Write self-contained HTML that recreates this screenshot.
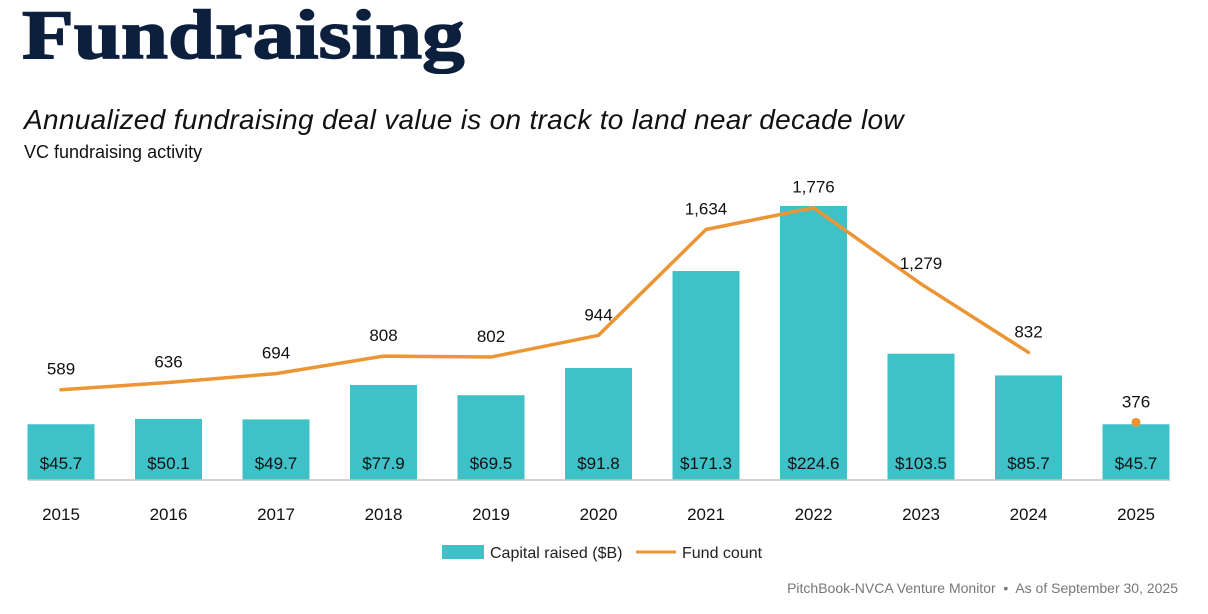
<!DOCTYPE html>
<html><head><meta charset="utf-8"><style>
body{margin:0;width:1208px;height:614px;background:#fff;overflow:hidden;font-family:"Liberation Sans",sans-serif;}
#title{position:absolute;left:22px;top:-4px;font-family:"Liberation Serif",serif;font-weight:bold;font-size:70px;color:#0c1f3d;letter-spacing:0px;transform:scaleX(1.21);transform-origin:left top;-webkit-text-stroke:1.5px #0c1f3d;}
#sub{position:absolute;left:24px;top:104px;font-style:italic;font-size:28px;color:#111;letter-spacing:0.3px;}
#sub2{position:absolute;left:24px;top:142px;font-size:18px;color:#111;}
#foot{position:absolute;right:30px;top:580px;font-size:14px;color:#777;}
svg{position:absolute;left:0;top:0;}
</style></head><body>
<div id="title">Fundraising</div>
<div id="sub">Annualized fundraising deal value is on track to land near decade low</div>
<div id="sub2">VC fundraising activity</div>
<div id="foot">PitchBook-NVCA Venture Monitor &nbsp;•&nbsp; As of September 30, 2025</div>
<svg id="chart" width="1208" height="614"></svg>
<script>
const years=["2015","2016","2017","2018","2019","2020","2021","2022","2023","2024","2025"];
const capital=[45.7,50.1,49.7,77.9,69.5,91.8,171.3,224.6,103.5,85.7,45.7];
const counts=[589,636,694,808,802,944,1634,1776,1279,832,376];
const capLabels=["$45.7","$50.1","$49.7","$77.9","$69.5","$91.8","$171.3","$224.6","$103.5","$85.7","$45.7"];
const countLabels=["589","636","694","808","802","944","1,634","1,776","1,279","832","376"];
const NS="http://www.w3.org/2000/svg";
const svg=document.getElementById('chart');
const base=480;
const x=i=>61+i*107.5;
const yb=v=>base-v*1.22;
const yl=v=>base-v*0.1533;
function mk(t,a){const e=document.createElementNS(NS,t);for(const k in a)e.setAttribute(k,a[k]);svg.appendChild(e);return e;}
capital.forEach((v,i)=>{
 const r=mk('rect',{x:x(i)-33.5,y:yb(v),width:67,height:base-yb(v),fill:'#3fc1c8'});
 
 
 const t=mk('text',{x:x(i),y:469,'text-anchor':'middle','font-size':17,fill:'#111'});t.textContent=capLabels[i];
 
 
 const yt=mk('text',{x:x(i),y:520,'text-anchor':'middle','font-size':17,fill:'#111'});yt.textContent=years[i];
 
 
});
const ax=mk('line',{x1:28,x2:1170,y1:base,y2:base,stroke:'#c8c2bc','stroke-width':1.5});


const n=counts.length;
const pts=counts.slice(0,n-1).map((v,i)=>x(i)+','+yl(v)).join(' ');
const pl=mk('polyline',{points:pts,fill:'none',stroke:'#ec9535','stroke-width':3.5,'stroke-linejoin':'round','stroke-linecap':'round'});


const dot=mk('circle',{cx:x(n-1),cy:yl(counts[n-1]),r:4.5,fill:'#ec9535'});


counts.forEach((v,i)=>{
 const t=mk('text',{x:x(i),y:yl(v)-15,'text-anchor':'middle','font-size':17,fill:'#111'});t.textContent=countLabels[i];
 
 
});
const lr=mk('rect',{x:442,y:545,width:42,height:14,fill:'#3fc1c8'});


const lt=mk('text',{x:490,y:558,'font-size':16,fill:'#222'});lt.textContent='Capital raised ($B)';


const ll=mk('line',{x1:636,x2:676,y1:552,y2:552,stroke:'#ec9535','stroke-width':3});


const lt2=mk('text',{x:682,y:558,'font-size':16,fill:'#222'});lt2.textContent='Fund count';


</script>
</body></html>
